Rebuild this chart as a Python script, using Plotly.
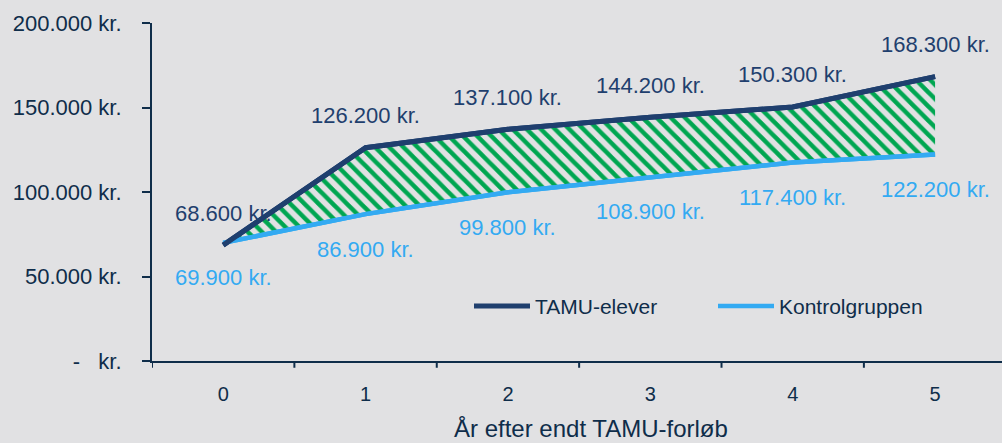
import plotly.graph_objects as go

years = ["0", "1", "2", "3", "4", "5"]
tamu = [68600, 126200, 137100, 144200, 150300, 168300]
kontrol = [69900, 86900, 99800, 108900, 117400, 122200]
tamu_labels = ["68.600 kr.", "126.200 kr.", "137.100 kr.", "144.200 kr.", "150.300 kr.", "168.300 kr."]
kontrol_labels = ["69.900 kr.", "86.900 kr.", "99.800 kr.", "108.900 kr.", "117.400 kr.", "122.200 kr."]
y_ticks = [0, 50000, 100000, 150000, 200000]
y_ticktext = ["-   kr.", "50.000 kr.", "100.000 kr.", "150.000 kr.", "200.000 kr."]
series_names = ["TAMU-elever", "Kontrolgruppen"]

BG = "#E1E1E3"
DARK = "#1F3F6E"
LIGHT = "#33AAF2"
TXT = "#0F2D4A"
GREEN = "#00A651"
FONT = "Liberation Sans, Arial, sans-serif"
xs = list(range(len(years)))

PX_W = 850.0  # plot width in px (l=152 .. 1002)
PX_H = 338.0  # plot height in px (t=23 .. 361)

fig = go.Figure()
fig.add_trace(go.Scatter(x=xs, y=kontrol, mode="lines", line=dict(color=LIGHT, width=4.5),
                         showlegend=False, hoverinfo="skip"))
fig.add_trace(go.Scatter(x=xs, y=tamu, mode="lines", line=dict(color=DARK, width=5),
                         fill="tonexty", fillcolor="rgba(0,0,0,0)",
                         fillpattern=dict(shape="\\", fgcolor=GREEN, fgopacity=1,
                                          bgcolor="rgba(0,0,0,0)", size=10, solidity=0.45),
                         showlegend=False, hoverinfo="skip"))
fig.add_trace(go.Scatter(x=xs, y=kontrol, mode="lines", name=series_names[1],
                         line=dict(color=LIGHT, width=4.5), showlegend=False))
fig.add_trace(go.Scatter(x=xs, y=tamu, mode="lines", name=series_names[0],
                         line=dict(color=DARK, width=5), showlegend=False))

for i in xs:
    fig.add_annotation(x=i, y=tamu[i], text=tamu_labels[i], showarrow=False,
                       yshift=32, font=dict(color=DARK, size=22))
    fig.add_annotation(x=i, y=kontrol[i], text=kontrol_labels[i], showarrow=False,
                       yshift=-35, font=dict(color=LIGHT, size=22))

fig.add_annotation(xref="paper", yref="paper", x=(591 - 152) / PX_W, y=0, yshift=-67,
                   xanchor="center", yanchor="middle",
                   text="År efter endt TAMU-forløb", showarrow=False,
                   font=dict(size=24, color=TXT))

# manual legend (long line samples as in the original)
leg_y = (361 - 306) / PX_H
for name, color, width, x0 in [(series_names[0], DARK, 5, 474), (series_names[1], LIGHT, 4.5, 718)]:
    fig.add_shape(type="line", xref="paper", yref="paper",
                  x0=(x0 - 152) / PX_W, x1=(x0 + 56 - 152) / PX_W, y0=leg_y, y1=leg_y,
                  line=dict(color=color, width=width))
    fig.add_annotation(xref="paper", yref="paper", x=(x0 + 59 - 152) / PX_W, y=leg_y,
                       xanchor="left", yanchor="middle", showarrow=False,
                       text=name, font=dict(size=21, color=TXT))

fig.update_layout(
    width=1002, height=443,
    paper_bgcolor=BG, plot_bgcolor=BG,
    margin=dict(l=152, r=0, t=23, b=82),
    font=dict(family=FONT, color=TXT, size=21),
    showlegend=False,
)
fig.update_xaxes(range=[-0.5, 5.47], tickvals=xs, ticktext=years, automargin=False,
                 showgrid=False, zeroline=False, showline=True, linecolor=TXT, linewidth=2,
                 ticks="", ticklabelstandoff=14,
                 tickfont=dict(family=FONT, size=20))
fig.update_yaxes(range=[0, 200000], tickvals=y_ticks, ticktext=y_ticktext, automargin=False,
                 showgrid=False, zeroline=False, showline=True, linecolor=TXT, linewidth=2,
                 ticks="outside", ticklen=8, tickwidth=2, tickcolor=TXT,
                 ticklabelstandoff=16, tickfont=dict(size=22))

for b in [-0.5, 0.5, 1.5, 2.5, 3.5, 4.5]:
    fig.add_shape(type="line", xref="x", yref="paper", x0=b, x1=b, y0=0, y1=-0.02,
                  line=dict(color=TXT, width=2))

fig.write_html("out.html", config={"displayModeBar": False},
               post_script="document.body.style.margin='0';document.body.style.overflow='hidden';")
